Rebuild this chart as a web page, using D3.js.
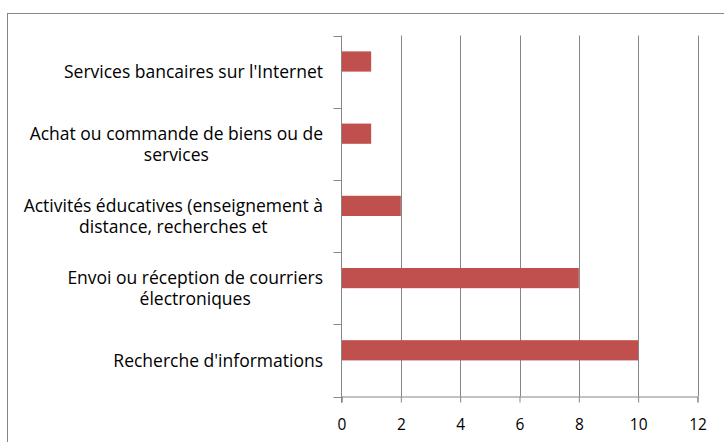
<!DOCTYPE html>
<html lang="fr">
<head>
	<meta charset="UTF-8">
	<title>usage internet</title>
	<style>
		body { margin: 0; background: #fff; }
		svg text { font-family: "Open Sans", sans-serif; fill: #000; }
	</style>
</head>
<body>
	<svg id="cont" width="724" height="442"></svg>
</body>
<script src="https://cdn.jsdelivr.net/npm/d3@7"></script>
<script>
	// categories from top to bottom as drawn
	let categories = [
		"Services bancaires sur l'Internet",
		"Achat ou commande de biens ou de services",
		"Activités éducatives (enseignement à distance, recherches et",
		"Envoi ou réception de courriers électroniques",
		"Recherche d'informations"
	];
	let values = [1, 1, 2, 8, 10];
	let series = ["s1", "s2"]; // second series is empty in the picture
	let xTicks = [0, 2, 4, 6, 8, 10, 12];

	let svg = d3.select("#cont");
	let pLeft = 341.5, pRight = 697.5, pTop = 35.5, pBottom = 396.5;

	// outer chart border (runs off the picture on the right and bottom)
	svg.append("rect")
		.attr("x", 7.5).attr("y", 13.5)
		.attr("width", 740).attr("height", 460)
		.attr("fill", "none")
		.attr("stroke", "#868686")
		.attr("stroke-width", 1);

	let x = d3.scaleLinear().domain([0, 12]).range([pLeft, pRight]);
	let y = d3.scaleBand().domain(categories).range([pTop, pBottom]);
	let inner = d3.scaleBand().domain(series).range([y.bandwidth() * 0.22, y.bandwidth() * 0.78]);

	// gridlines
	svg.append("g").selectAll("line")
		.data(xTicks.filter(d => d > 0))
		.join("line")
		.attr("x1", d => Math.round(x(d)) + 0.5).attr("x2", d => Math.round(x(d)) + 0.5)
		.attr("y1", pTop).attr("y2", pBottom)
		.attr("stroke", "#868686");

	// bars
	svg.append("g").selectAll("rect")
		.data(values)
		.join("rect")
		.attr("fill", "#c0504d")
		.attr("x", x(0))
		.attr("y", (d, i) => y(categories[i]) + inner("s1"))
		.attr("width", d => x(d) - x(0))
		.attr("height", inner.bandwidth());

	// x axis
	let xaxis = d3.axisBottom(x).tickValues(xTicks).tickSize(6).tickPadding(16);
	let gx = svg.append("g")
		.attr("transform", `translate(0,${pBottom})`)
		.call(xaxis);
	gx.select(".domain").attr("stroke", "#868686");
	gx.selectAll(".tick line").attr("stroke", "#868686");
	gx.selectAll(".tick text").attr("font-size", 15.5).attr("font-family", "Open Sans");

	// y axis: ticks at band boundaries
	let bounds = categories.map(c => y(c)).concat([pBottom]);
	let gy = svg.append("g");
	gy.append("line")
		.attr("x1", pLeft).attr("x2", pLeft)
		.attr("y1", pTop).attr("y2", pBottom + 6)
		.attr("stroke", "#868686");
	gy.selectAll("line.tk")
		.data(bounds)
		.join("line")
		.attr("class", "tk")
		.attr("x1", pLeft - 8).attr("x2", pLeft)
		.attr("y1", d => Math.round(d) + 0.5).attr("y2", d => Math.round(d) + 0.5)
		.attr("stroke", "#868686");

	// wrapped category labels, centred lines
	let maxW = 315, lineH = 21, labelX = 323;
	let labels = svg.append("g").selectAll("text")
		.data(categories)
		.join("text")
		.attr("font-size", 17.5)
		.attr("text-anchor", "middle");

	labels.each(function(d) {
		let t = d3.select(this);
		let words = d.split(" ");
		let lines = [], cur = [];
		let probe = t.append("tspan");
		words.forEach(w => {
			cur.push(w);
			probe.text(cur.join(" "));
			if (probe.node().getComputedTextLength() > maxW && cur.length > 1) {
				cur.pop();
				lines.push(cur.join(" "));
				cur = [w];
			}
		});
		lines.push(cur.join(" "));
		probe.remove();
		let widths = [];
		lines.forEach(l => {
			let s = t.append("tspan").text(l);
			widths.push(s.node().getComputedTextLength());
			s.remove();
		});
		let blockW = d3.max(widths);
		let cx = labelX - blockW / 2;
		let cy = y(d) + y.bandwidth() / 2;
		lines.forEach((l, i) => {
			t.append("tspan")
				.attr("x", cx)
				.attr("y", cy + (i - (lines.length - 1) / 2) * lineH)
				.attr("dy", "0.38em")
				.text(l);
		});
	});
</script>
</html>
